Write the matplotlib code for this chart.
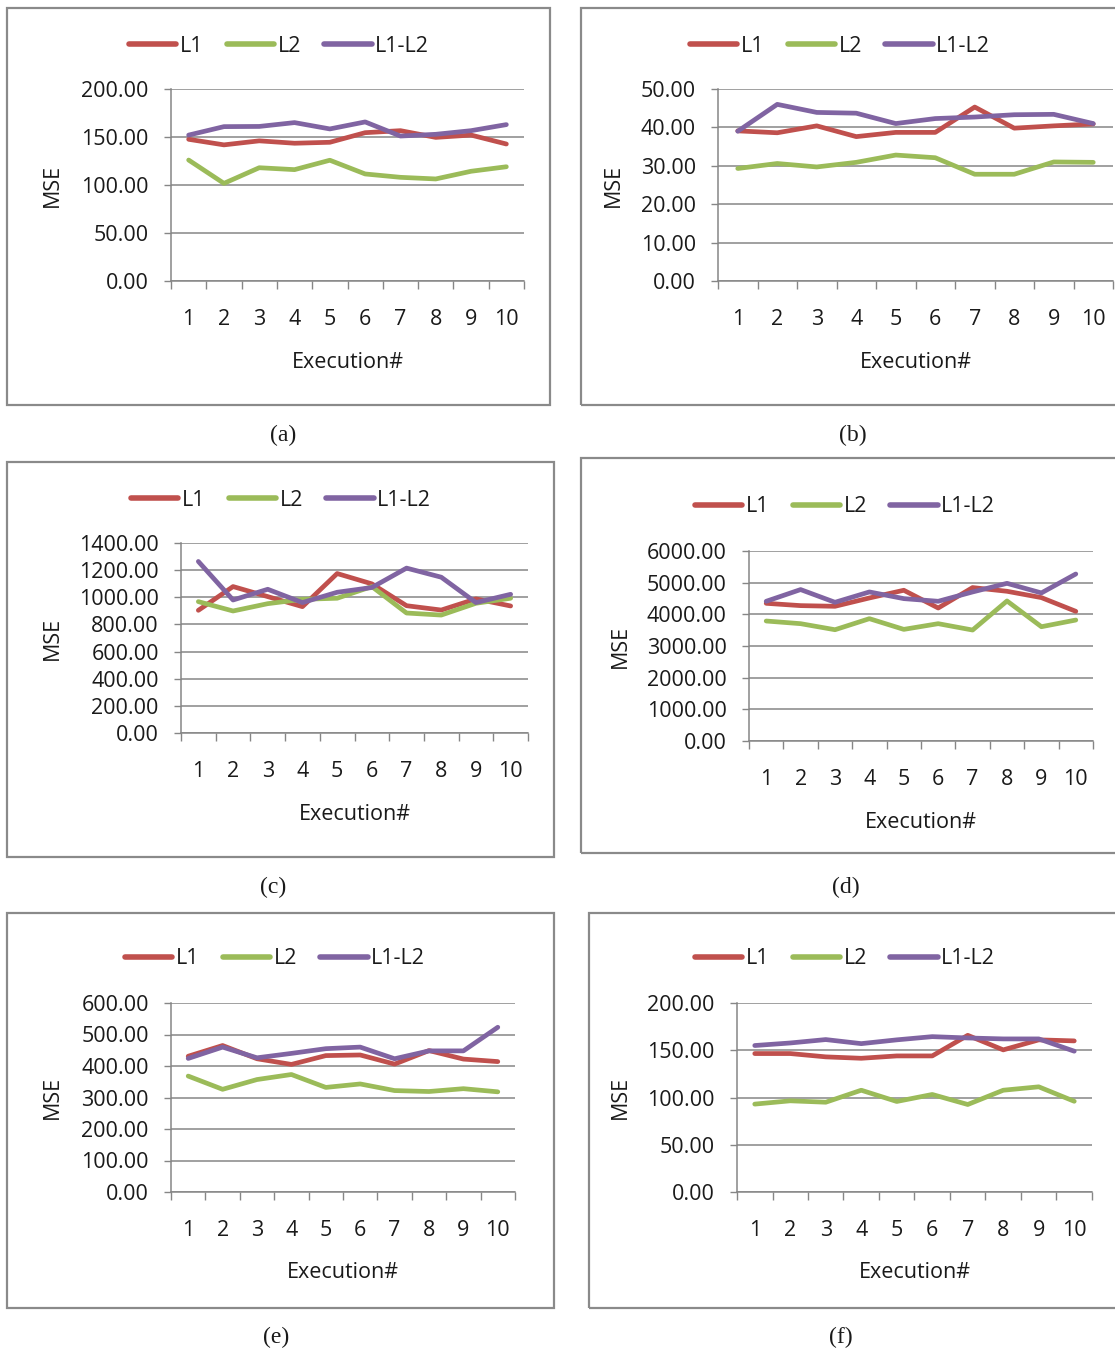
import numpy as np
import matplotlib
matplotlib.use("Agg")
import matplotlib.pyplot as plt
from matplotlib.patches import Rectangle

plt.rcParams['font.family'] = ['Open Sans', 'DejaVu Sans']

W, H = 1115, 1354

executions = ['1', '2', '3', '4', '5', '6', '7', '8', '9', '10']
series_names = ['L1', 'L2', 'L1-L2']
series_colors = ['#C0504D', '#9BBB59', '#8064A2']

# values
a_l1 = [147.6, 141.8, 146.0, 143.5, 144.5, 154.5, 156.6, 149.6, 152.0, 142.7]
a_l2 = [126.0, 101.7, 118.0, 116.0, 125.8, 111.5, 108.0, 106.3, 114.3, 119.0]
a_l12 = [152.0, 160.8, 161.0, 165.0, 158.4, 165.7, 151.0, 152.8, 156.6, 162.9]

b_l1 = [39.1, 38.6, 40.4, 37.6, 38.7, 38.7, 45.3, 39.8, 40.4, 40.9]
b_l2 = [29.3, 30.6, 29.7, 30.9, 32.8, 32.1, 27.8, 27.8, 31.0, 30.9]
b_l12 = [39.0, 46.0, 43.9, 43.7, 41.0, 42.3, 42.7, 43.3, 43.4, 41.0]

c_l1 = [904, 1079, 1005, 931, 1175, 1099, 938, 906, 988, 936]
c_l2 = [968, 899, 953, 985, 993, 1079, 884, 869, 956, 993]
c_l12 = [1264, 980, 1059, 961, 1037, 1072, 1215, 1148, 961, 1022]

d_l1 = [4348, 4275, 4254, 4517, 4760, 4200, 4845, 4728, 4528, 4095]
d_l2 = [3789, 3705, 3514, 3863, 3525, 3705, 3504, 4422, 3609, 3820]
d_l12 = [4412, 4782, 4380, 4707, 4496, 4412, 4707, 4979, 4676, 5274]

e_l1 = [431, 465, 423, 405, 433, 435, 406, 449, 422, 414]
e_l2 = [368, 326, 357, 373, 332, 343, 322, 319, 328, 318]
e_l12 = [424, 460, 426, 440, 455, 460, 423, 448, 448, 523]

f_l1 = [146.5, 146.5, 143.0, 141.5, 144.0, 144.0, 165.8, 150.4, 161.0, 159.9]
f_l2 = [93.0, 96.5, 95.0, 107.7, 95.8, 103.2, 92.6, 107.7, 111.3, 96.0]
f_l12 = [155.0, 157.7, 161.3, 157.0, 161.0, 164.4, 163.0, 162.0, 162.0, 149.0]

captions = ['(a)', '(b)', '(c)', '(d)', '(e)', '(f)']

# layout in pixels: box, plot area, legend centre, MSE x, caption centre, y max, y step
panels = [
    dict(data=(a_l1, a_l2, a_l12), box=(7, 8, 550, 405), plot=(171, 89, 524, 281),
         leg=(279, 46), mse_x=52, cap=(283, 435), ymax=200, step=50),
    dict(data=(b_l1, b_l2, b_l12), box=(581, 8, 1125, 405), plot=(718, 89, 1113, 281),
         leg=(840, 46), mse_x=613, cap=(853, 435), ymax=50, step=10),
    dict(data=(c_l1, c_l2, c_l12), box=(7, 462, 554, 857), plot=(181, 543, 528, 733),
         leg=(281, 500), mse_x=52, cap=(273, 887), ymax=1400, step=200),
    dict(data=(d_l1, d_l2, d_l12), box=(581, 458, 1125, 853), plot=(749, 551, 1093, 741),
         leg=(845, 507), mse_x=620, cap=(846, 887), ymax=6000, step=1000),
    dict(data=(e_l1, e_l2, e_l12), box=(7, 913, 554, 1308), plot=(171, 1003, 515, 1192),
         leg=(275, 959), mse_x=52, cap=(276, 1337), ymax=600, step=100),
    dict(data=(f_l1, f_l2, f_l12), box=(589, 913, 1125, 1308), plot=(737, 1003, 1092, 1192),
         leg=(845, 959), mse_x=620, cap=(841, 1337), ymax=200, step=50),
]

grid_color = '#868686'
text_color = '#1a1a1a'
fs = 15.5

fig = plt.figure(figsize=(W / 100, H / 100), dpi=100)

for p, cap in zip(panels, captions):
    bl, bt, br, bb = p['box']
    fig.patches.append(Rectangle((bl / W, 1 - bb / H), (br - bl) / W, (bb - bt) / H,
                                 transform=fig.transFigure, fill=False,
                                 edgecolor='#8a8a8a', linewidth=1.6))

    l, t, r, b = p['plot']
    ax = fig.add_axes([l / W, 1 - b / H, (r - l) / W, (b - t) / H])
    x = np.arange(1, len(executions) + 1)
    for vals, name, col in zip(p['data'], series_names, series_colors):
        ax.plot(x, vals, color=col, lw=3.4, label=name,
                solid_joinstyle='round', solid_capstyle='round')

    ax.set_xlim(0.5, len(executions) + 0.5)
    ax.set_ylim(0, p['ymax'])
    yt = np.arange(0, p['ymax'] + p['step'] / 2, p['step'])
    ax.set_yticks(yt)
    ax.set_yticklabels(['%.2f' % v for v in yt], fontsize=fs, color=text_color)
    ax.tick_params(axis='y', length=5, width=1, color=grid_color, pad=11)

    ax.set_xticks(np.arange(0.5, len(executions) + 1, 1))
    ax.set_xticklabels([])
    ax.set_xticks(x, minor=True)
    ax.set_xticklabels(executions, minor=True, fontsize=fs, color=text_color)
    ax.tick_params(axis='x', which='major', length=6, width=1, color=grid_color)
    ax.tick_params(axis='x', which='minor', length=0, pad=20)

    ax.yaxis.grid(True, color=grid_color, lw=1.1)
    ax.set_axisbelow(True)
    for s in ['top', 'right']:
        ax.spines[s].set_visible(False)
    for s in ['left', 'bottom']:
        ax.spines[s].set_color(grid_color)
        ax.spines[s].set_linewidth(1.1)

    lx, ly = p['leg']
    leg = ax.legend(loc='center', bbox_to_anchor=(lx / W, 1 - ly / H),
                    bbox_transform=fig.transFigure, ncol=3, frameon=False,
                    fontsize=fs, handlelength=2.2, handletextpad=0.15,
                    columnspacing=1.1, borderpad=0)
    for line in leg.get_lines():
        line.set_linewidth(4.0)
    for txt in leg.get_texts():
        txt.set_color(text_color)

    fig.text(p['mse_x'] / W, 1 - ((t + b) / 2) / H, 'MSE', rotation=90,
             ha='center', va='center', fontsize=fs, color=text_color)
    fig.text(((l + r) / 2) / W, 1 - (b + 81) / H, 'Execution#',
             ha='center', va='center', fontsize=fs, color=text_color)
    fig.text(p['cap'][0] / W, 1 - p['cap'][1] / H, cap, ha='center', va='center',
             fontsize=17, family='Liberation Serif', color=text_color)

fig.savefig('out.png', dpi=100)
